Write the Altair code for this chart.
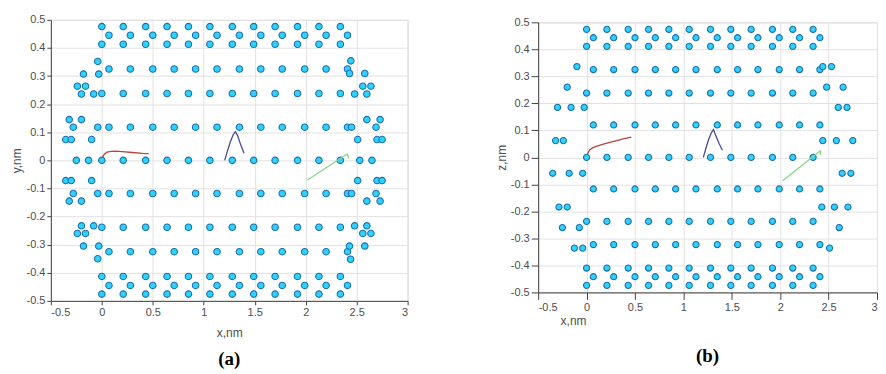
import altair as alt
import pandas as pd

# ---------------- data ----------------
X_TICKS = [-0.5, 0, 0.5, 1, 1.5, 2, 2.5, 3]
Y_TICKS = [-0.5, -0.4, -0.3, -0.2, -0.1, 0, 0.1, 0.2, 0.3, 0.4, 0.5]

# lattice columns (nm)
LAT_A = [0.0, 0.21, 0.43, 0.64, 0.85, 1.06, 1.28, 1.49, 1.70, 1.92, 2.13, 2.34]
LAT_B = [0.07, 0.28, 0.50, 0.71, 0.92, 1.13, 1.35, 1.56, 1.77, 1.99, 2.20, 2.41]

ROW_PHASE = ["A", "B", "A", "B", "A", "B", "A", "B", "A", "B", "A", "B", "A"]
ROW_Y_A = [0.476, 0.445, 0.413, 0.325, 0.238, 0.118, 0.0, -0.118, -0.238, -0.325, -0.413, -0.445, -0.476]
ROW_Y_B = [0.474, 0.443, 0.411, 0.325, 0.238, 0.120, 0.0, -0.117, -0.237, -0.323, -0.410, -0.442, -0.474]

# extra edge atoms, panel (a)
EDGE_A_X = [-0.04, -0.03, -0.18, -0.24, -0.16, -0.20, -0.08, -0.32, -0.20, -0.28, -0.04, -0.354, -0.30, -0.10, -0.25, -0.13,
            -0.354, -0.30, -0.10, -0.28, -0.04, -0.32, -0.20, -0.20, -0.08, -0.24, -0.16, -0.18, -0.03, -0.04,
            2.443, 2.43, 2.58, 2.56, 2.64, 2.48, 2.60, 2.60, 2.73, 2.69, 2.45, 2.51, 2.70, 2.75, 2.53, 2.65,
            2.51, 2.70, 2.75, 2.69, 2.45, 2.60, 2.73, 2.48, 2.60, 2.56, 2.64, 2.43, 2.58, 2.44]
EDGE_A_Y = [0.352, 0.307, 0.307, 0.264, 0.264, 0.236, 0.236, 0.145, 0.145, 0.118, 0.118, 0.074, 0.074, 0.074, 0.0, 0.0,
            -0.072, -0.072, -0.072, -0.118, -0.118, -0.145, -0.145, -0.233, -0.233, -0.26, -0.26, -0.305, -0.305, -0.35,
            0.354, 0.309, 0.309, 0.264, 0.264, 0.236, 0.236, 0.145, 0.145, 0.118, 0.118, 0.074, 0.074, 0.074, 0.0, 0.0,
            -0.072, -0.072, -0.072, -0.118, -0.118, -0.145, -0.145, -0.233, -0.233, -0.26, -0.26, -0.305, -0.305, -0.352]

# extra edge atoms, panel (b)
EDGE_B_X = [-0.10, -0.20, -0.30, -0.16, -0.024, -0.32, -0.24, -0.35, -0.18, -0.04, -0.285, -0.20, -0.25, -0.075, -0.126, -0.04,
            2.44, 2.53, 2.48, 2.65, 2.60, 2.69, 2.44, 2.58, 2.75, 2.64, 2.73, 2.43, 2.56, 2.70, 2.61, 2.51]
EDGE_B_Y = [0.336, 0.26, 0.185, 0.185, 0.185, 0.062, 0.062, -0.059, -0.059, -0.059, -0.184, -0.184, -0.26, -0.26, -0.336, -0.336,
            0.336, 0.336, 0.26, 0.26, 0.185, 0.185, 0.062, 0.062, 0.062, -0.059, -0.059, -0.184, -0.184, -0.184, -0.26, -0.336]

# trajectories
RED_A_X = [0.005, 0.02, 0.05, 0.09, 0.13, 0.2, 0.3, 0.4, 0.46]
RED_A_Y = [0.009, 0.02, 0.029, 0.032, 0.033, 0.031, 0.028, 0.025, 0.024]
BLUE_A_X = [1.205, 1.23, 1.26, 1.29, 1.31, 1.33, 1.36, 1.395]
BLUE_A_Y = [0.0, 0.03, 0.065, 0.092, 0.102, 0.09, 0.058, 0.025]
GREEN_A_X = [2.017, 2.391, 2.407, 2.424]
GREEN_A_Y = [-0.070, 0.019, 0.022, 0.007]

RED_B_X = [0.01, 0.03, 0.06, 0.1, 0.2, 0.3, 0.4, 0.462]
RED_B_Y = [0.012, 0.027, 0.035, 0.041, 0.052, 0.061, 0.070, 0.075]
BLUE_B_X = [1.206, 1.23, 1.26, 1.29, 1.311, 1.33, 1.37, 1.403]
BLUE_B_Y = [0.0, 0.03, 0.065, 0.092, 0.103, 0.085, 0.05, 0.026]
GREEN_B_X = [2.025, 2.399, 2.414, 2.416]
GREEN_B_Y = [-0.087, 0.020, 0.024, 0.010]

LINE_NAMES = ["red", "blue", "green"]
LINE_COLORS = ["#b8443c", "#4a4a9c", "#86d886"]


def atoms(row_y, ex, ey):
    xs, ys = [], []
    for y, ph in zip(row_y, ROW_PHASE):
        cols = LAT_A if ph == "A" else LAT_B
        xs += cols
        ys += [y] * len(cols)
    xs += ex
    ys += ey
    return pd.DataFrame({"x": xs, "y": ys})


def lines(parts):
    rows = []
    for name, xs, ys in parts:
        for i, (a, b) in enumerate(zip(xs, ys)):
            rows.append({"x": a, "y": b, "s": name, "o": i})
    return pd.DataFrame(rows)


def panel(pts, ln, w, h, ytitle, size, tick, tx, ty, label, loff):
    xax = alt.Axis(values=X_TICKS, labelExpr="toString(datum.value)", title="x,nm",
                   tickSize=tick, titleX=tx, titleY=ty, titleBaseline="alphabetic",
                   titleAlign="center", titleAnchor="start", grid=True, labelOverlap=False,
                   tickCount=len(X_TICKS) + 2)
    yax = alt.Axis(values=Y_TICKS, labelExpr="toString(datum.value)", title=ytitle,
                   tickSize=tick, grid=True, labelOverlap=False, titlePadding=2,
                   tickCount=len(Y_TICKS) + 2)
    xs = alt.Scale(domain=[-0.5, 3], nice=False, zero=False)
    ys = alt.Scale(domain=[-0.5, 0.5], nice=False, zero=False)
    p = alt.Chart(pts).mark_circle(size=size, opacity=1, color="#2ed3f7",
                                   stroke="#1b6db3", strokeWidth=1.1).encode(
        x=alt.X("x:Q", scale=xs, axis=xax),
        y=alt.Y("y:Q", scale=ys, axis=yax),
    )
    l = alt.Chart(ln).mark_line(strokeWidth=1.3).encode(
        x=alt.X("x:Q", scale=xs),
        y=alt.Y("y:Q", scale=ys),
        color=alt.Color("s:N", scale=alt.Scale(domain=LINE_NAMES, range=LINE_COLORS), legend=None),
        order="o:Q",
    )
    return alt.layer(p, l).properties(
        width=w, height=h,
        title=alt.TitleParams(label, orient="bottom", font="Liberation Serif", fontSize=19,
                              fontWeight="bold", color="#000000", offset=loff),
    )


pa = panel(atoms(ROW_Y_A, EDGE_A_X, EDGE_A_Y),
           lines([("red", RED_A_X, RED_A_Y), ("blue", BLUE_A_X, BLUE_A_Y), ("green", GREEN_A_X, GREEN_A_Y)]),
           358, 282, "y,nm", 42, 4, 179, 36, "(a)", 11)
pb = panel(atoms(ROW_Y_B, EDGE_B_X, EDGE_B_Y),
           lines([("red", RED_B_X, RED_B_Y), ("blue", BLUE_B_X, BLUE_B_Y), ("green", GREEN_B_X, GREEN_B_Y)]),
           340, 271, "z,nm", 38, 7, 35, 32, "(b)", 21)

chart = alt.hconcat(pa, pb, spacing=86, center=True).properties(
    padding={"left": 2, "top": 4, "right": 0, "bottom": 0}
).configure_view(stroke="#d6d6d6").configure_axis(
    gridColor="#e2e2e2", domainColor="#444444", tickColor="#444444",
    labelColor="#4d4d4d", labelFont="Liberation Sans", labelFontSize=11, labelPadding=2,
    titleColor="#4d4d4d", titleFont="Liberation Sans", titleFontSize=12, titleFontWeight="normal",
).configure_title(anchor="middle")

chart.save("out.html", embed_options={"renderer": "svg", "actions": False})
